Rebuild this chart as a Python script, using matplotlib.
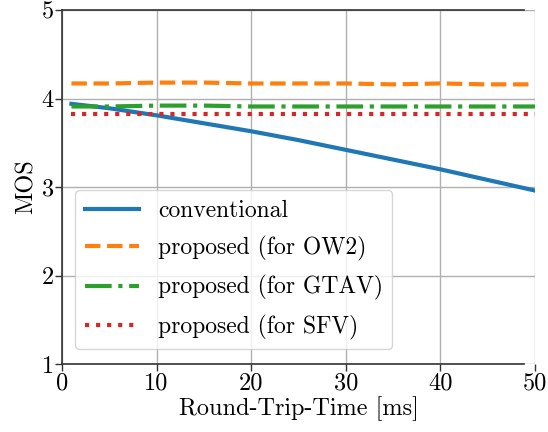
import matplotlib
matplotlib.use("Agg")
import matplotlib.pyplot as plt

plt.rcParams['font.family'] = ['cmr10', 'DejaVu Serif']
plt.rcParams['axes.unicode_minus'] = False
plt.rcParams['mathtext.fontset'] = 'cm'
plt.rcParams['font.size'] = 17.5

# round-trip time [ms]
rtt = [1, 5, 10, 15, 20, 25, 30, 35, 40, 45, 50]

mos_conventional = [3.94, 3.89, 3.81, 3.72, 3.63, 3.53, 3.42, 3.31, 3.20, 3.08, 2.96]
mos_ow2 = [4.17, 4.17, 4.18, 4.18, 4.17, 4.17, 4.17, 4.16, 4.17, 4.16, 4.16]
mos_gtav = [3.91, 3.91, 3.92, 3.92, 3.91, 3.91, 3.91, 3.91, 3.91, 3.91, 3.91]
mos_sfv = [3.82, 3.82, 3.82, 3.82, 3.82, 3.82, 3.82, 3.82, 3.82, 3.82, 3.82]

fig = plt.figure(figsize=(5.48, 4.32), dpi=100)
ax = fig.add_axes([0.1131, 0.1574, 0.8631, 0.8194])

ax.plot(rtt, mos_conventional, '-', color='tab:blue', lw=3, label='conventional')
ax.plot(rtt, mos_ow2, '--', color='tab:orange', lw=3, label='proposed (for OW2)')
ax.plot(rtt, mos_gtav, '-.', color='tab:green', lw=3, label='proposed (for GTAV)')
ax.plot(rtt, mos_sfv, ':', color='tab:red', lw=3, label='proposed (for SFV)')

ax.set_xlim(0, 50)
ax.set_ylim(1, 5)
ax.set_xticks([0, 10, 20, 30, 40, 50])
ax.set_yticks([1, 2, 3, 4, 5])
ax.grid(True, color='#b0b0b0', lw=1)
ax.set_axisbelow(True)
ax.set_xlabel('Round-Trip-Time [ms]', labelpad=1)
ax.set_ylabel('MOS', labelpad=3)

ax.spines['right'].set_visible(False)
for side in ['top', 'bottom']:
    ax.spines[side].set_bounds(0, 48.8)
for side in ['top', 'bottom', 'left']:
    ax.spines[side].set_color('#333333')
    ax.spines[side].set_linewidth(1.2)
ax.tick_params(length=5, width=1, color='#333333', pad=1)

ax.legend(loc='lower left', bbox_to_anchor=(0.028, 0.042), borderaxespad=0,
          fontsize=17, handlelength=2.3, labelspacing=0.6, handletextpad=0.8,
          framealpha=0.8, fancybox=True)

fig.savefig('out.png', dpi=100)
